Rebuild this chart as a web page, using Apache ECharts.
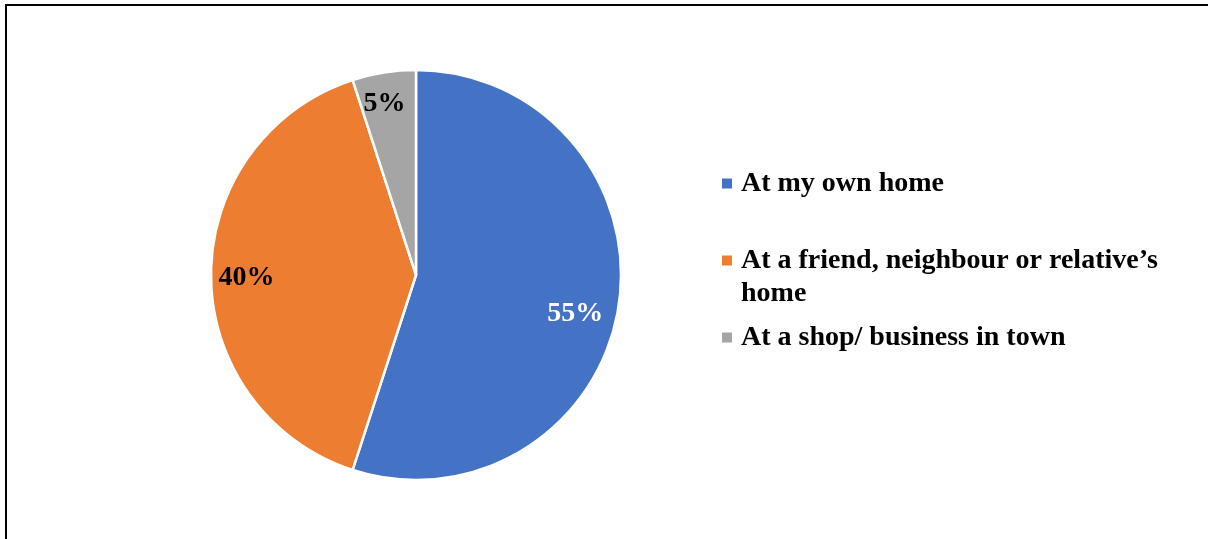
<!DOCTYPE html>
<html>
<head>
<meta charset="utf-8">
<style>
  html, body { margin: 0; padding: 0; background: #fff; }
  #chart { width: 1208px; height: 539px; }
</style>
<script src="https://cdn.jsdelivr.net/npm/echarts@6/dist/echarts.min.js"></script>
</head>
<body>
<div id="chart"></div>
<script>
// Where people do it: share of respondents (%)
const categories = [
  'At my own home',
  'At a friend, neighbour or relative’s home',
  'At a shop/ business in town'
];
const shares = [55, 40, 5];
const colors = ['#4472C4', '#ED7D31', '#A5A5A5'];
const labelColors = ['#ffffff', '#000000', '#000000'];
// nudges so each percentage sits where it reads best inside its slice
const labelOffsets = [[55, 22], [-64, 3], [-15, -67]];

const FONT = '"Liberation Serif", "Times New Roman", serif';

const chart = echarts.init(document.getElementById('chart'), null, { renderer: 'canvas' });

function legendFor(i, top, formatter) {
  const lg = {
    data: [categories[i]],
    left: 722,
    top: top,
    padding: 0,
    orient: 'vertical',
    icon: 'rect',
    itemWidth: 10,
    itemHeight: 10,
    itemStyle: { borderWidth: 0 },
    selectedMode: false,
    textStyle: {
      fontFamily: FONT,
      fontWeight: 'bold',
      fontSize: 28,
      lineHeight: 33,
      color: '#000',
      padding: [0, 0, 0, 4]
    }
  };
  if (formatter) lg.formatter = formatter;
  return lg;
}

const option = {
  animation: false,
  backgroundColor: '#fff',
  color: colors,
  graphic: [
    { type: 'line', shape: { x1: 6, y1: 5, x2: 1208, y2: 5 }, style: { stroke: '#000', lineWidth: 2 } },
    { type: 'line', shape: { x1: 6, y1: 4, x2: 6, y2: 539 }, style: { stroke: '#000', lineWidth: 2 } }
  ],
  legend: [
    legendFor(0, 167),
    // leading blank line keeps the marker level with the first line of the wrapped name
    legendFor(1, 211, function () {
      return ' \nAt a friend, neighbour or relative’s\nhome';
    }),
    legendFor(2, 321)
  ],
  series: [{
    type: 'pie',
    center: [416, 275],
    radius: [0, 205],
    startAngle: 90,
    clockwise: true,
    avoidLabelOverlap: false,
    itemStyle: { borderColor: '#fff', borderWidth: 2.5 },
    label: {
      show: true,
      position: 'inside',
      formatter: '{c}%',
      fontFamily: FONT,
      fontWeight: 'bold',
      fontSize: 28
    },
    labelLine: { show: false },
    emphasis: { disabled: true },
    data: categories.map(function (name, i) {
      return {
        name: name,
        value: shares[i],
        label: { color: labelColors[i], offset: labelOffsets[i] }
      };
    })
  }]
};

chart.setOption(option);
</script>
</body>
</html>
